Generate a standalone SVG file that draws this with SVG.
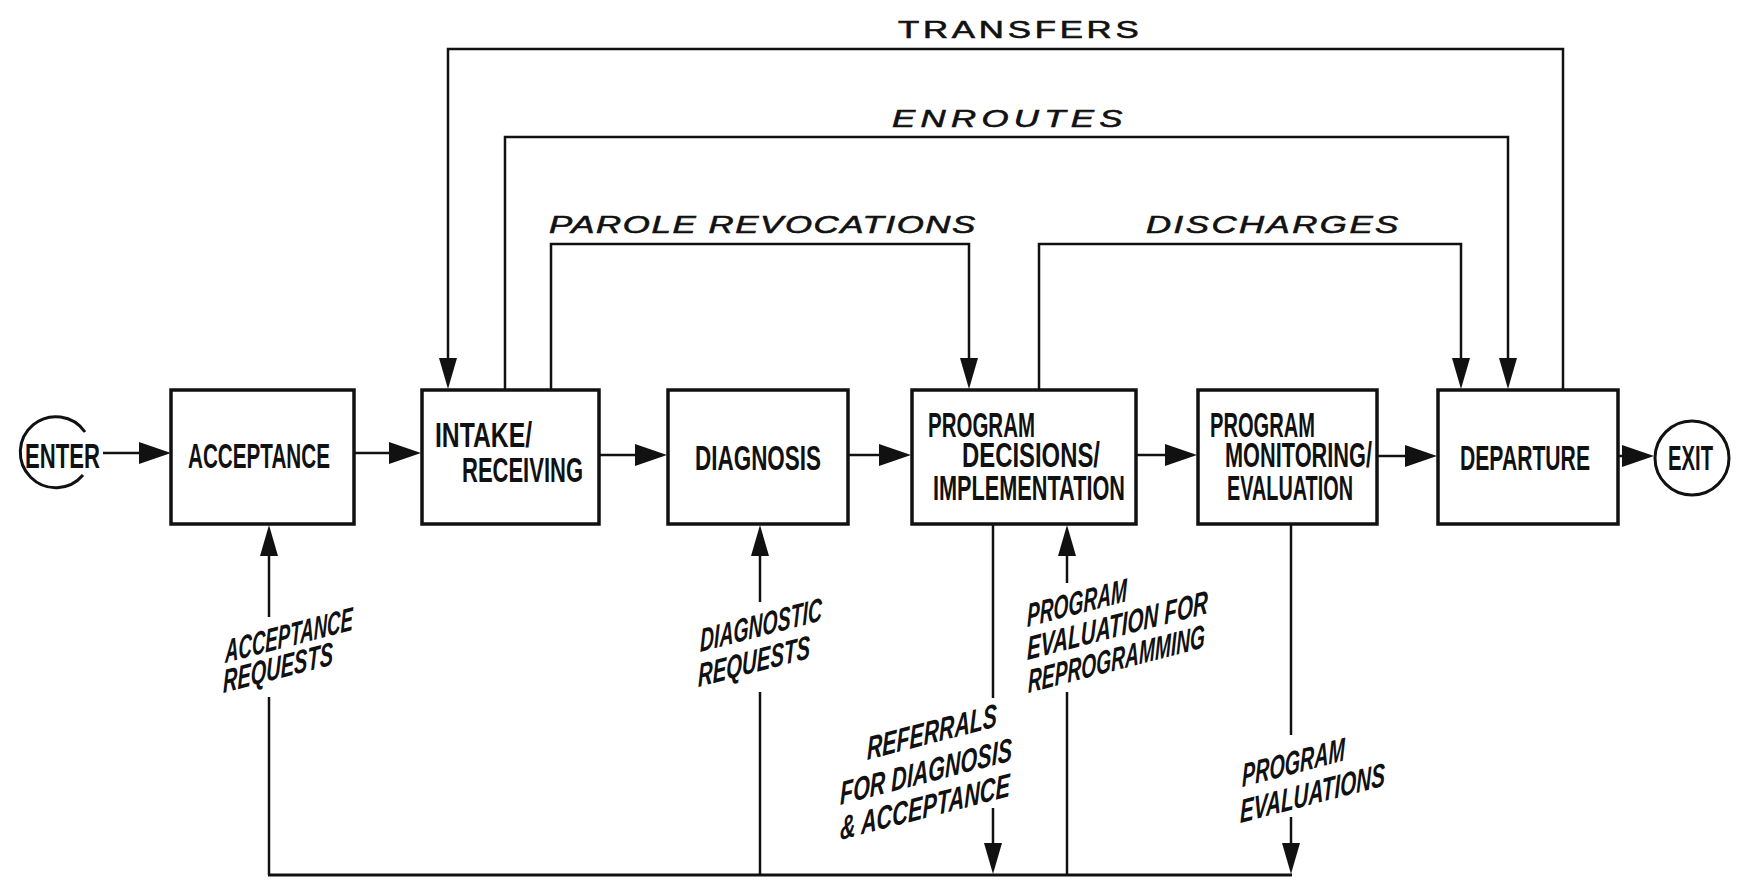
<svg xmlns="http://www.w3.org/2000/svg" width="1751" height="894" viewBox="0 0 1751 894">
  <style>
    .box { fill: #fff; stroke: #111; stroke-width: 3.5; }
    .ring { fill: none; stroke: #111; stroke-width: 3; }
    .wire { fill: none; stroke: #111; stroke-width: 2.5; }
    .base { fill: none; stroke: #111; stroke-width: 3; }
    .lbl { font-family: "Liberation Sans Narrow", "Liberation Sans", Arial, sans-serif; font-size: 35px; font-weight: bold; fill: #111; }
    .flow { font-family: "Liberation Sans Narrow", "Liberation Sans", Arial, sans-serif; font-size: 33px; font-weight: bold; font-style: italic; fill: #111; }
    .route { font-family: "Liberation Sans", Arial, sans-serif; font-size: 24px; fill: #111; stroke: #111; stroke-width: 0.6; }
    .route.it { font-style: italic; }
  </style>
  <defs>
    <!-- heads are anchored at their base; the tip extends past the path end -->
    <marker id="ah" viewBox="0 0 32 22" refX="0" refY="11" markerWidth="32" markerHeight="22" markerUnits="userSpaceOnUse" orient="auto">
      <path d="M0,0 L32,11 L0,22 Z" fill="#111"/>
    </marker>
    <marker id="av" viewBox="0 0 31 18" refX="0" refY="9" markerWidth="31" markerHeight="18" markerUnits="userSpaceOnUse" orient="auto">
      <path d="M0,0 L31,9 L0,18 Z" fill="#111"/>
    </marker>
  </defs>
  <rect width="1751" height="894" fill="#fff"/>

  <!-- connectors -->
  <g id="connectors">
    <!-- main flow -->
    <path class="wire" d="M103,453 H139" marker-end="url(#ah)"/>
    <path class="wire" d="M355,453 H389" marker-end="url(#ah)"/>
    <path class="wire" d="M600,455 H635" marker-end="url(#ah)"/>
    <path class="wire" d="M849,455 H879" marker-end="url(#ah)"/>
    <path class="wire" d="M1137,455 H1165" marker-end="url(#ah)"/>
    <path class="wire" d="M1378,456 H1405" marker-end="url(#ah)"/>
    <path class="wire" d="M1619,456 H1622" marker-end="url(#ah)"/>

    <!-- loops over the top -->
    <path class="wire" d="M1563,390 V49 H448 V358" marker-end="url(#av)"/>
    <path class="wire" d="M505,390 V137 H1508 V358" marker-end="url(#av)"/>
    <path class="wire" d="M551,390 V244 H969 V358" marker-end="url(#av)"/>
    <path class="wire" d="M1039,390 V244 H1461 V358" marker-end="url(#av)"/>

    <!-- feedback bus underneath -->
    <path class="base" d="M268,875 H1292"/>
    <path class="wire" d="M269,875 V697"/>
    <path class="wire" d="M269,617 V556" marker-end="url(#av)"/>
    <path class="wire" d="M760,875 V692"/>
    <path class="wire" d="M760,602 V556" marker-end="url(#av)"/>
    <path class="wire" d="M993,524 V698"/>
    <path class="wire" d="M993,808 V843" marker-end="url(#av)"/>
    <path class="wire" d="M1067,875 V692"/>
    <path class="wire" d="M1067,583 V556" marker-end="url(#av)"/>
    <path class="wire" d="M1291,524 V735"/>
    <path class="wire" d="M1291,817 V843" marker-end="url(#av)"/>

    <!-- route labels (extended lettering) -->
    <g transform="translate(898,38) scale(1.45,1)"><text class="route" textLength="166" lengthAdjust="spacing">TRANSFERS</text></g>
    <g transform="translate(892,127) scale(1.45,1)"><text class="route it" textLength="159" lengthAdjust="spacing">ENROUTES</text></g>
    <g transform="translate(549,233) scale(1.45,1)"><text class="route it" textLength="294" lengthAdjust="spacing">PAROLE REVOCATIONS</text></g>
    <g transform="translate(1146,233) scale(1.45,1)"><text class="route it" textLength="174" lengthAdjust="spacing">DISCHARGES</text></g>

    <!-- slanted bus labels -->
    <g transform="translate(225,663) skewY(-14.5)"><text class="flow" textLength="128" lengthAdjust="spacingAndGlyphs">ACCEPTANCE</text></g>
    <g transform="translate(223,693) skewY(-14.5)"><text class="flow" textLength="110" lengthAdjust="spacingAndGlyphs">REQUESTS</text></g>
    <g transform="translate(700,652) skewY(-14.5)"><text class="flow" textLength="122" lengthAdjust="spacingAndGlyphs">DIAGNOSTIC</text></g>
    <g transform="translate(698,687) skewY(-14.5)"><text class="flow" textLength="112" lengthAdjust="spacingAndGlyphs">REQUESTS</text></g>
    <g transform="translate(867,760) skewY(-14.5)"><text class="flow" textLength="130" lengthAdjust="spacingAndGlyphs">REFERRALS</text></g>
    <g transform="translate(840,805) skewY(-14.5)"><text class="flow" textLength="172" lengthAdjust="spacingAndGlyphs">FOR DIAGNOSIS</text></g>
    <g transform="translate(840,840) skewY(-14.5)"><text class="flow" textLength="170" lengthAdjust="spacingAndGlyphs">&amp; ACCEPTANCE</text></g>
    <g transform="translate(1027,627) skewY(-14.5)"><text class="flow" textLength="100" lengthAdjust="spacingAndGlyphs">PROGRAM</text></g>
    <g transform="translate(1027,660) skewY(-14.5)"><text class="flow" textLength="181" lengthAdjust="spacingAndGlyphs">EVALUATION FOR</text></g>
    <g transform="translate(1028,693) skewY(-14.5)"><text class="flow" textLength="177" lengthAdjust="spacingAndGlyphs">REPROGRAMMING</text></g>
    <g transform="translate(1242,787) skewY(-14.5)"><text class="flow" textLength="103" lengthAdjust="spacingAndGlyphs">PROGRAM</text></g>
    <g transform="translate(1240,823) skewY(-14.5)"><text class="flow" textLength="145" lengthAdjust="spacingAndGlyphs">EVALUATIONS</text></g>
  </g>

  <!-- terminals and stages -->
  <g id="enter">
    <path class="ring" d="M85,432 A35.5,35.5 0 1 0 83,475"/>
    <text class="lbl" x="25" y="468" textLength="75" lengthAdjust="spacingAndGlyphs">ENTER</text>
  </g>
  <g id="acceptance">
    <rect class="box" x="171" y="390" width="183" height="134"/>
    <text class="lbl" x="188" y="468" textLength="142" lengthAdjust="spacingAndGlyphs">ACCEPTANCE</text>
  </g>
  <g id="intake">
    <rect class="box" x="422" y="390" width="177" height="134"/>
    <text class="lbl" x="435" y="447" textLength="97" lengthAdjust="spacingAndGlyphs">INTAKE/</text>
    <text class="lbl" x="462" y="482" textLength="121" lengthAdjust="spacingAndGlyphs">RECEIVING</text>
  </g>
  <g id="diagnosis">
    <rect class="box" x="668" y="390" width="180" height="134"/>
    <text class="lbl" x="695" y="470" textLength="126" lengthAdjust="spacingAndGlyphs">DIAGNOSIS</text>
  </g>
  <g id="program-decisions">
    <rect class="box" x="912" y="390" width="224" height="134"/>
    <text class="lbl" x="928" y="437" textLength="107" lengthAdjust="spacingAndGlyphs">PROGRAM</text>
    <text class="lbl" x="962" y="467" textLength="138" lengthAdjust="spacingAndGlyphs">DECISIONS/</text>
    <text class="lbl" x="933" y="500" textLength="192" lengthAdjust="spacingAndGlyphs">IMPLEMENTATION</text>
  </g>
  <g id="program-monitoring">
    <rect class="box" x="1198" y="390" width="179" height="134"/>
    <text class="lbl" x="1210" y="437" textLength="105" lengthAdjust="spacingAndGlyphs">PROGRAM</text>
    <text class="lbl" x="1225" y="467" textLength="147" lengthAdjust="spacingAndGlyphs">MONITORING/</text>
    <text class="lbl" x="1227" y="500" textLength="126" lengthAdjust="spacingAndGlyphs">EVALUATION</text>
  </g>
  <g id="departure">
    <rect class="box" x="1438" y="390" width="180" height="134"/>
    <text class="lbl" x="1460" y="470" textLength="130" lengthAdjust="spacingAndGlyphs">DEPARTURE</text>
  </g>
  <g id="exit">
    <circle class="ring" cx="1692" cy="458" r="37"/>
    <text class="lbl" x="1668" y="470" textLength="45" lengthAdjust="spacingAndGlyphs">EXIT</text>
  </g>
</svg>
